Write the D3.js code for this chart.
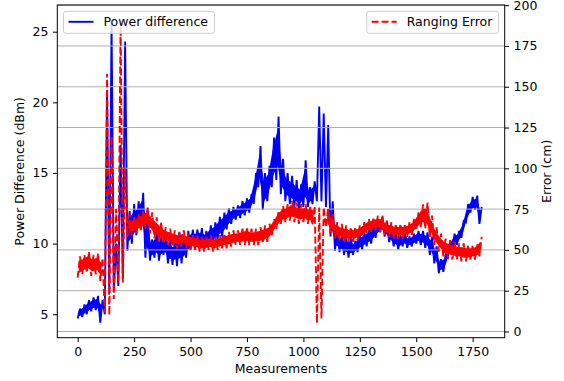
<!DOCTYPE html>
<html>
<head>
<meta charset="utf-8">
<script src="https://cdn.jsdelivr.net/npm/d3@7"></script>
<style>
  body { margin: 0; background: #fff; }
  text { font-family: "DejaVu Sans", sans-serif; }
</style>
</head>
<body>
<div id="chart"></div>
<script>
const measurements = d3.range(0, 1800, 20);

const powerLo = [4.7, 4.8, 5.0, 5.2, 5.3, 4.4, 5.0, 6.5, 6.6, 7.0,
  7.5, 9.5, 10.0, 10.6, 11.0, 9.0, 8.8, 9.0, 8.8, 9.2,
  8.6, 8.5, 8.4, 8.6, 9.0, 9.6, 9.6, 9.7, 9.6, 9.8,
  10.0, 10.3, 10.5, 11.0, 11.4, 11.7, 11.8, 12.0, 12.2, 12.8,
  14.0, 12.4, 13.0, 14.0, 14.5, 13.5, 13.0, 12.8, 12.6, 12.4,
  12.6, 12.6, 12.8, 13.0, 13.0, 12.6, 10.5, 9.5, 9.4, 9.2,
  9.0, 9.2, 9.4, 9.6, 9.8, 10.0, 10.4, 10.8, 10.5, 10.1,
  9.8, 9.6, 9.8, 9.7, 9.8, 10.0, 9.9, 9.7, 9.2, 8.6,
  7.9, 8.0, 9.0, 9.6, 9.9, 10.4, 11.5, 12.2, 12.4, 11.4];
const powerHi = [5.4, 5.7, 6.0, 6.2, 6.3, 6.0, 20.7, 25.6, 10.0, 17.0,
  24.3, 12.3, 12.8, 13.0, 13.6, 12.5, 10.3, 10.8, 10.5, 10.4,
  10.2, 10.1, 10.8, 10.5, 10.9, 11.0, 11.0, 11.1, 10.9, 11.3,
  11.5, 11.9, 12.2, 12.5, 12.6, 12.7, 13.0, 13.2, 13.5, 15.0,
  16.9, 15.0, 15.5, 17.5, 19.0, 16.0, 15.0, 14.8, 14.5, 14.2,
  15.9, 14.0, 14.4, 19.7, 19.2, 18.4, 13.0, 11.2, 10.6, 10.4,
  10.4, 10.2, 10.6, 10.8, 11.0, 11.4, 11.7, 11.9, 11.6, 11.0,
  10.7, 10.6, 10.8, 10.5, 10.7, 10.9, 10.9, 10.8, 10.5, 9.8,
  8.9, 9.2, 10.1, 10.7, 10.9, 11.6, 12.8, 13.3, 13.4, 12.6];

const errorLo = [33, 35, 36, 34, 35, 31, 12, 10, 20, 30,
  30, 58, 59, 60, 62, 63, 60, 57, 55, 54,
  53, 52, 51, 52, 51, 50, 50, 49, 49, 50,
  49, 50, 51, 51, 52, 53, 53, 53, 53, 53,
  53, 54, 55, 59, 63, 66, 67, 68, 67, 66,
  67, 66, 65, 5, 8, 64, 60, 57, 56, 55,
  55, 55, 56, 58, 60, 61, 62, 61, 59, 58,
  57, 57, 57, 58, 59, 62, 64, 63, 58, 53,
  49, 46, 45, 44, 44, 43, 43, 44, 44, 46];
const errorHi = [46, 47, 49, 47, 48, 45, 158, 120, 75, 190,
  100, 72, 70, 72, 74, 76, 73, 70, 67, 64,
  63, 62, 61, 62, 60, 60, 59, 58, 58, 59,
  58, 59, 60, 61, 62, 62, 63, 64, 63, 63,
  64, 65, 66, 69, 74, 77, 78, 80, 79, 78,
  78, 77, 77, 76, 76, 76, 72, 67, 66, 65,
  64, 64, 65, 67, 69, 70, 71, 71, 68, 67,
  66, 66, 66, 67, 69, 73, 78, 79, 71, 64,
  60, 57, 56, 55, 54, 54, 53, 53, 54, 58];

const xTicks = [0, 250, 500, 750, 1000, 1250, 1500, 1750];
const powerTicks = [5, 10, 15, 20, 25];
const errorTicks = [0, 25, 50, 75, 100, 125, 150, 175, 200];

const width = 564, height = 381;
const plot = { left: 57.3, right: 504.7, top: 5, bottom: 337.7 };
const fs = 12.5; // 10pt

const svg = d3.select("#chart").append("svg")
  .attr("width", width).attr("height", height);

const x = d3.scaleLinear().domain([-90.4, 1891.9]).range([plot.left, plot.right]);
const yPower = d3.scaleLinear().domain([3.34, 26.89]).range([plot.bottom, plot.top]);
const yError = d3.scaleLinear().domain([-3.8, 200.1]).range([plot.bottom, plot.top]);

const power = measurements.map((m, i) => ({ m: m, lo: powerLo[i], hi: powerHi[i] }));
const error = measurements.map((m, i) => ({ m: m, lo: errorLo[i], hi: errorHi[i] }));

// coeur de la bande (sans les pics), puis zigzag lo -> hi par dessus
function drawSeries(data, y, color, dash, maxBand) {
  const k = 0.22;
  svg.append("path")
    .attr("d", d3.area()
      .defined(d => d.hi - d.lo < maxBand)
      .x(d => x(d.m + 5))
      .y0(d => y(d.lo + k * (d.hi - d.lo)))
      .y1(d => y(d.hi - k * (d.hi - d.lo)))(data))
    .attr("fill", color);
  const pts = data.flatMap(d => [[d.m, d.lo], [d.m + 10, d.hi]]);
  svg.append("path")
    .attr("d", d3.line().x(d => x(d[0])).y(d => y(d[1]))(pts))
    .attr("fill", "none").attr("stroke", color)
    .attr("stroke-width", 1.9).attr("stroke-dasharray", dash);
}

drawSeries(power, yPower, "#0000ff", null, 5);

// grille de l'axe de droite
svg.append("g").selectAll("line")
  .data(errorTicks)
  .join("line")
  .attr("x1", plot.left).attr("x2", plot.right)
  .attr("y1", d => yError(d)).attr("y2", d => yError(d))
  .attr("stroke", "#b0b0b0").attr("stroke-width", 1);

drawSeries(error, yError, "#ff0000", "6.9,3", 30);

// cadre
svg.append("rect")
  .attr("x", plot.left).attr("y", plot.top)
  .attr("width", plot.right - plot.left).attr("height", plot.bottom - plot.top)
  .attr("fill", "none").attr("stroke", "#000").attr("stroke-width", 1);

function styleAxis(g) {
  g.select(".domain").remove();
  g.selectAll("line").attr("stroke", "#000").attr("stroke-width", 1);
  g.selectAll("text").attr("fill", "#000").style("font-size", fs + "px")
    .style("font-family", "DejaVu Sans");
}

svg.append("g")
  .attr("transform", "translate(0," + plot.bottom + ")")
  .call(d3.axisBottom(x).tickValues(xTicks).tickFormat(d3.format("d"))
    .tickSize(4.4).tickPadding(5))
  .call(styleAxis);

svg.append("g")
  .attr("transform", "translate(" + plot.left + ",0)")
  .call(d3.axisLeft(yPower).tickValues(powerTicks).tickSize(4.4).tickPadding(4.4))
  .call(styleAxis);

svg.append("g")
  .attr("transform", "translate(" + plot.right + ",0)")
  .call(d3.axisRight(yError).tickValues(errorTicks).tickSize(4.4).tickPadding(4.4))
  .call(styleAxis);

// titres des axes
svg.append("text")
  .attr("x", (plot.left + plot.right) / 2).attr("y", 373)
  .attr("text-anchor", "middle").style("font-size", fs + "px")
  .text("Measurements");

svg.append("text")
  .attr("transform", "translate(20," + (plot.top + plot.bottom) / 2 + ") rotate(-90)")
  .attr("dy", "0.35em")
  .attr("text-anchor", "middle").style("font-size", fs + "px")
  .text("Power Difference (dBm)");

svg.append("text")
  .attr("transform", "translate(547," + (plot.top + plot.bottom) / 2 + ") rotate(-90)")
  .attr("dy", "0.35em")
  .attr("text-anchor", "middle").style("font-size", fs + "px")
  .text("Error (cm)");

// legendes
function legend(x0, w, label, color, dash) {
  const g = svg.append("g").attr("transform", "translate(" + x0 + ",11.3)");
  g.append("rect").attr("width", w).attr("height", 22).attr("rx", 2.5)
    .attr("fill", "#fff").attr("fill-opacity", 0.8)
    .attr("stroke", "#cccccc").attr("stroke-width", 1);
  g.append("line").attr("x1", 5).attr("x2", 30).attr("y1", 10.5).attr("y2", 10.5)
    .attr("stroke", color).attr("stroke-width", 1.9)
    .attr("stroke-dasharray", dash);
  g.append("text").attr("x", 40).attr("y", 15.2)
    .style("font-size", fs + "px").attr("fill", "#000").text(label);
}
legend(63.5, 151, "Power difference", "#0000ff", null);
legend(366.7, 131.8, "Ranging Error", "#ff0000", "6.9,3");
</script>
</body>
</html>
